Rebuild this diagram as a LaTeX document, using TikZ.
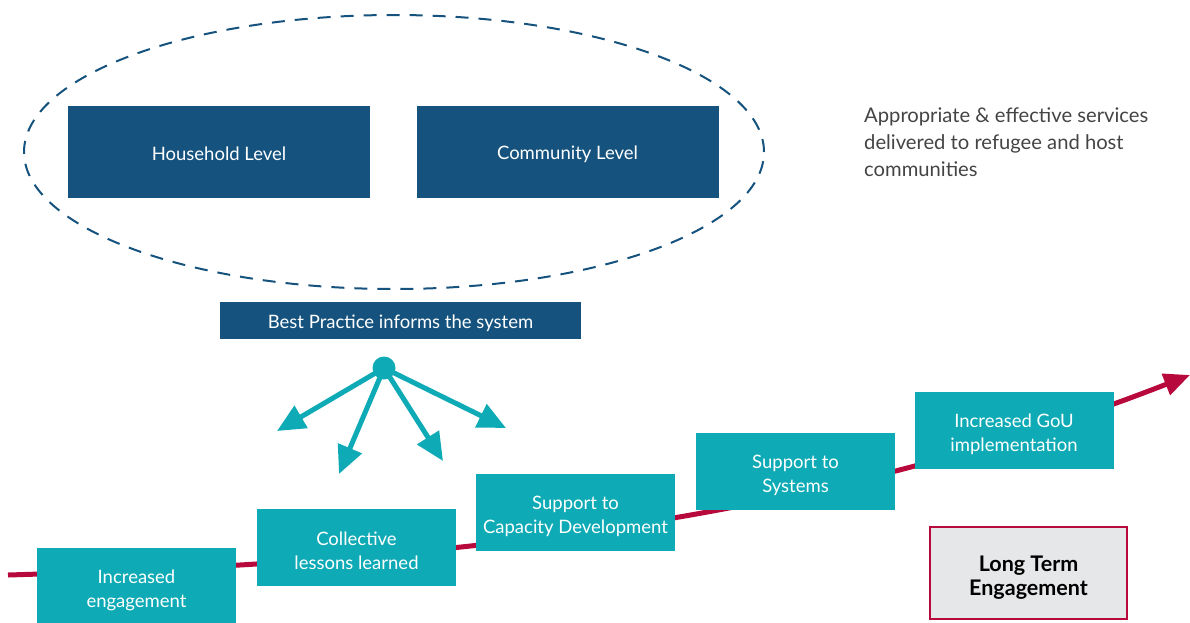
\documentclass[tikz,border=0pt]{standalone}
\usepackage{fontspec}
\setmainfont{Lato}
\usetikzlibrary{arrows.meta,shapes.geometric}
\definecolor{levelblue}{HTML}{15537E}
\definecolor{stepteal}{HTML}{0EAAB5}
\definecolor{trackred}{HTML}{B8093C}
\definecolor{boxgray}{HTML}{E6E7E9}
\definecolor{notegray}{HTML}{444444}
\tikzset{
  lowered/.style={align=center, execute at begin node={\rule{0pt}{#1}}},
  levelbox/.style={fill=levelblue, text=white, inner sep=0pt, lowered=17.5pt, minimum width=302pt, minimum height=92pt, font=\fontsize{18.5}{22}\selectfont},
  stepbox/.style={fill=stepteal, text=white, inner sep=0pt, lowered=45pt, minimum width=199pt, minimum height=77pt, font=\fontsize{18.5}{24}\selectfont},
  spoke/.style={stepteal, line width=5pt, -{Triangle[length=28pt,width=25pt]}},
}
\begin{document}
\begin{tikzpicture}[x=1pt,y=-1pt]
	\useasboundingbox (0,0) rectangle (1190,622);
	% grouping of the two levels
	\node[draw=levelblue, ellipse, line width=2pt, dash pattern=on 13pt off 10pt, minimum width=740pt, minimum height=274pt] (group) at (394,152) {};
	\node[levelbox] (house) at (219,152) {Household Level};
	\node[levelbox] (comm) at (567.5,152) {Community Level};
	\node[fill=levelblue, text=white, inner sep=0pt, lowered=19.5pt, minimum width=361pt, minimum height=37pt, font=\fontsize{18.5}{20}\selectfont] (practice) at (400.5,320.5) {Best Practice informs the system};
	\node[anchor=north west, inner sep=0pt, align=left, text=notegray, font=\fontsize{20.2}{27}\selectfont] (note) at (864,107) {Appropriate \& effective services\\delivered to refugee and host\\communities};

	% spokes from the hub
	\node[circle, fill=stepteal, inner sep=0pt, minimum size=23pt] (hub) at (384,368) {};
	\coordinate (s1) at (277,431);
	\coordinate (s2) at (339,474);
	\coordinate (s3) at (443,461);
	\coordinate (s4) at (506,428);
	\foreach \s in {s1,s2,s3,s4}
		\draw[spoke] (hub.center) -- (\s);

	% rising track behind the steps
	\coordinate (trackstart) at (8,575);
	\coordinate (trackend) at (1190,375);
	\draw[trackred, line width=5pt, -{Triangle[length=26pt,width=22pt]}] (trackstart) .. controls (408,563) and (790,531) .. (trackend);

	\node[stepbox] (engage) at (136.5,586.5) {Increased\\engagement};
	\node[stepbox] (lessons) at (356.5,547.5) {Collective\\lessons learned};
	\node[stepbox] (capacity) at (575.5,512.5) {Support to\\Capacity Development};
	\node[stepbox] (systems) at (795.5,471.5) {Support to\\Systems};
	\node[stepbox] (gou) at (1014,430.5) {Increased GoU\\implementation};

	\node[draw=trackred, line width=2.5pt, fill=boxgray, inner sep=0pt, lowered=48pt, minimum width=197pt, minimum height=92pt, font=\bfseries\fontsize{21.5}{24}\selectfont] (longterm) at (1028.5,573) {Long Term\\Engagement};
\end{tikzpicture}
\end{document}
